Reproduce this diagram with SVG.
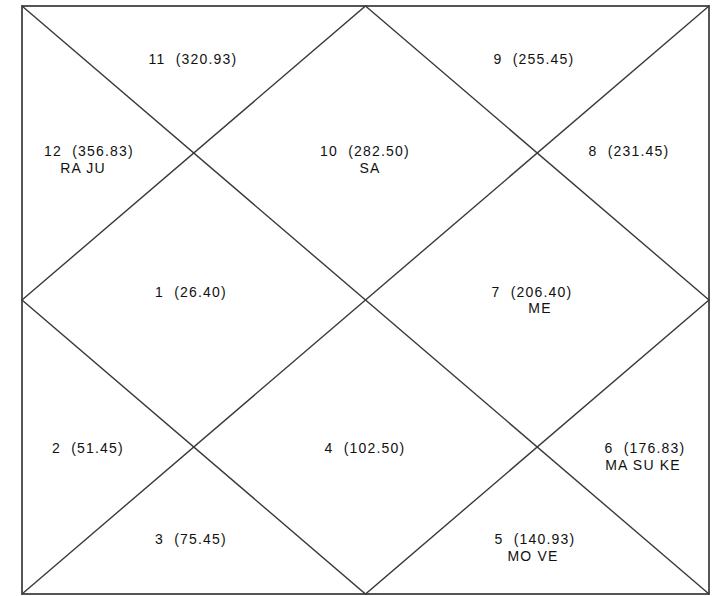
<svg xmlns="http://www.w3.org/2000/svg" width="715" height="596" viewBox="0 0 715 596">
<style>
.ln{stroke:#3a3a3a;stroke-width:1.4;fill:none}
.fr{stroke:#555;stroke-width:2;fill:none}
text{font-family:"Liberation Sans",Arial,sans-serif;font-size:14px;fill:#111;text-anchor:middle;letter-spacing:1.2px}
</style>
<rect width="715" height="596" fill="#fff"/>
<g id="connectors">
<rect class="fr" x="22" y="6" width="687" height="588"/>
<line class="ln" x1="22" y1="6" x2="709" y2="594"/>
<line class="ln" x1="709" y1="6" x2="22" y2="594"/>
<polygon class="ln" points="365.5,6 709,300 365.5,594 22,300"/>
</g>
<g id="h11"><text x="193" y="64" xml:space="preserve">11  (320.93)</text></g>
<g id="h9"><text x="534" y="64" xml:space="preserve">9  (255.45)</text></g>
<g id="h12"><text x="89" y="156" xml:space="preserve">12  (356.83)</text><text x="83" y="173">RA JU</text></g>
<g id="h10"><text x="365" y="156" xml:space="preserve">10  (282.50)</text><text x="370" y="173">SA</text></g>
<g id="h8"><text x="629" y="156" xml:space="preserve">8  (231.45)</text></g>
<g id="h1"><text x="191" y="297" xml:space="preserve">1  (26.40)</text></g>
<g id="h7"><text x="532" y="297" xml:space="preserve">7  (206.40)</text><text x="540" y="313">ME</text></g>
<g id="h2"><text x="88" y="453" xml:space="preserve">2  (51.45)</text></g>
<g id="h4"><text x="365" y="453" xml:space="preserve">4  (102.50)</text></g>
<g id="h6"><text x="645" y="453" xml:space="preserve">6  (176.83)</text><text x="643" y="470">MA SU KE</text></g>
<g id="h3"><text x="191" y="544" xml:space="preserve">3  (75.45)</text></g>
<g id="h5"><text x="535" y="544" xml:space="preserve">5  (140.93)</text><text x="533" y="561">MO VE</text></g>
</svg>
